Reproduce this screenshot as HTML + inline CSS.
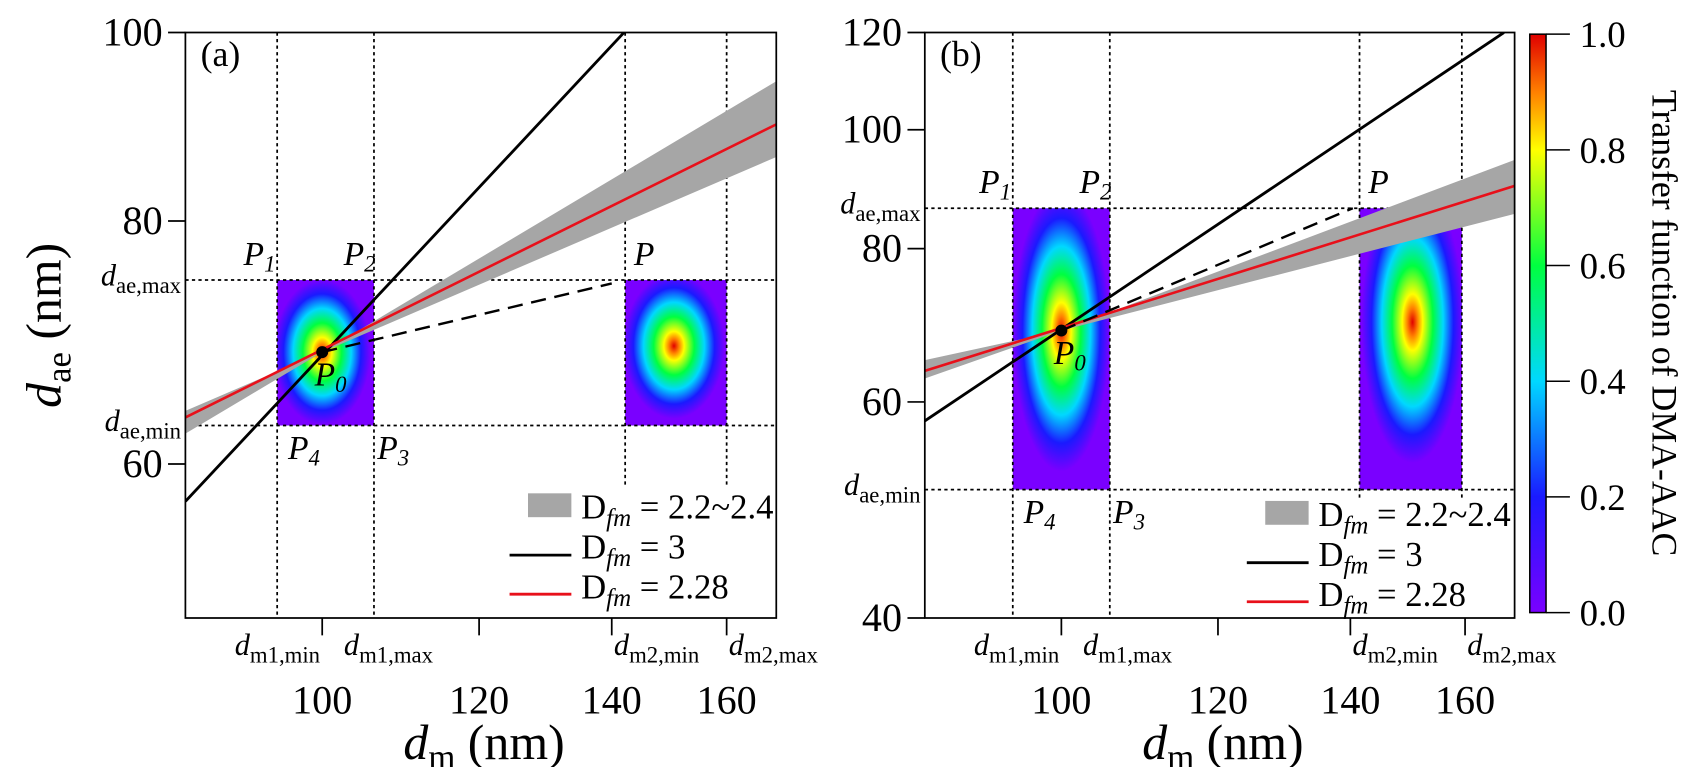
<!DOCTYPE html>
<html><head><meta charset="utf-8"><style>
html,body{margin:0;padding:0;background:#fff;}
svg{display:block;font-family:"Liberation Serif","DejaVu Serif",serif;}
</style></head><body>
<svg id="chart" width="1700" height="767" viewBox="0 0 1568 707.4" xmlns="http://www.w3.org/2000/svg">
<defs id="defs"></defs>
<g id="root"></g>
</svg>
<script>
// ---------- data ----------
const dmTicks=[100,120,140,160];
const daeTicksA=[60,80,100];
const daeTicksB=[40,60,80,100,120];
const cbTicks=[0,0.2,0.4,0.6,0.8,1.0];
const cbTickLabels=["0.0","0.2","0.4","0.6","0.8","1.0"];
const xDomain=[85.3,169.5];
const yDomainA=[50,100];
const yDomainB=[40,120];
const p0A=[100,68.5];
const p0B=[100,68.6];
const dm1A=[94.9,106.2];
const dm2A=[142.2,160];
const daeRangeA=[62.8,74.6];
const dm1B=[94.5,105.8];
const dm2B=[141.5,159.4];
const daeRangeB=[50.9,86.3];
const heat2A=[150.5,69];
const heat2B=[150.5,69.7];
const blackDmA=[85.3,142];
const blackDaeA=[57.4,100];
const blackDmB=[85.3,167.4];
const blackDaeB=[57.9,120];
const redDm=[85.3,169.5];
const redDaeA=[63.4,89.7];
const redDaeB=[63.6,90];
const bandDm=[85.3,100,169.5];
const bandUpA=[63.9,68.5,94.4];
const bandLoA=[62.2,68.5,86.3];
const bandUpB=[64.9,68.6,94.5];
const bandLoB=[62.7,68.6,85.4];
const dashDmA=[100,140];
const dashDaeA=[68.5,74.3];
const dashDmB=[100,140.4];
const dashDaeB=[68.6,86.3];
const cmapPos=[0,0.2,0.4,0.6,0.8,0.9,1.0];
const cmapCol=["#7a00ff","#1a1aff","#00d8ff","#00ff40","#ffff00","#ff8000","#e00000"];

// ---------- helpers ----------
const NS="http://www.w3.org/2000/svg";
const root=document.getElementById('root');
const defs=document.getElementById('defs');
function mk(tag,attrs,parent){const e=document.createElementNS(NS,tag);for(const k in attrs)e.setAttribute(k,attrs[k]);(parent||root).appendChild(e);return e;}
function logScale(d,r){const a=Math.log10(d[0]),b=Math.log10(d[1]);return v=>r[0]+(Math.log10(v)-a)/(b-a)*(r[1]-r[0]);}
function linScale(d,r){return v=>r[0]+(v-d[0])/(d[1]-d[0])*(r[1]-r[0]);}
function subText(parent,x,y,main,sub,opts){
  const t=mk('text',{x:x,y:y,'font-size':opts.size,'text-anchor':opts.anchor||'start'},parent);
  const a=document.createElementNS(NS,'tspan');a.textContent=main;if(opts.italicMain)a.setAttribute('font-style','italic');t.appendChild(a);
  const b=document.createElementNS(NS,'tspan');b.textContent=sub;b.setAttribute('font-size',opts.subSize);b.setAttribute('dy',opts.dy);if(opts.italicSub)b.setAttribute('font-style','italic');t.appendChild(b);
  if(opts.tail){const c=document.createElementNS(NS,'tspan');c.textContent=opts.tail;c.setAttribute('dy',-opts.dy);t.appendChild(c);}
  return t;
}

const lg=mk('linearGradient',{id:'cbgrad',x1:0,y1:1,x2:0,y2:0},defs);
cmapPos.forEach((p,i)=>mk('stop',{offset:p,'stop-color':cmapCol[i]},lg));

function heatGrad(id,cx,cy){
  const g=mk('radialGradient',{id:id,cx:cx,cy:cy,r:0.5,fx:cx,fy:cy},defs);
  for(let i=cmapPos.length-1;i>=0;i--){mk('stop',{offset:1-cmapPos[i],'stop-color':cmapCol[i]},g);}
}

function panel(cfg){
  const g=mk('g',{});
  
  
  const X=logScale(xDomain,[cfg.L,cfg.R]);
  const Y=logScale(cfg.yDom,[cfg.B,cfg.T]);
  [[cfg.dm1,cfg.p0,'1'],[cfg.dm2,cfg.heat2,'2']].forEach(([dm,c,k])=>{
    const x0=X(dm[0]),x1=X(dm[1]),y0=Y(cfg.daeR[1]),y1=Y(cfg.daeR[0]);
    const id=cfg.id+'heat'+k;
    heatGrad(id,((X(c[0])-x0)/(x1-x0)).toFixed(3),((Y(c[1])-y0)/(y1-y0)).toFixed(3));
    const r=mk('rect',{x:x0,y:y0,width:x1-x0,height:y1-y0,fill:'url(#'+id+')'},g);
    
    
  });
  const dashS={stroke:'#000','stroke-width':1.6,'stroke-dasharray':'3,3',fill:'none'};
  cfg.dm1.forEach(v=>{const l=mk('line',Object.assign({x1:X(v),x2:X(v),y1:cfg.T,y2:cfg.B},dashS),g);});
  cfg.dm2.forEach(v=>{const l=mk('line',Object.assign({x1:X(v),x2:X(v),y1:cfg.T,y2:cfg.dm2End},dashS),g);});
  cfg.daeR.forEach(v=>{const l=mk('line',Object.assign({x1:cfg.L,x2:cfg.R,y1:Y(v),y2:Y(v)},dashS),g);});
  const clip=mk('clipPath',{id:cfg.id+'clip'},defs);
  mk('rect',{x:cfg.L,y:cfg.T,width:cfg.R-cfg.L,height:cfg.B-cfg.T},clip);
  const pts=bandDm.map((d,i)=>X(d)+','+Y(cfg.up[i])).concat(bandDm.slice().reverse().map((d,j)=>{const i=bandDm.length-1-j;return X(d)+','+Y(cfg.lo[i]);}));
  const band=mk('polygon',{points:pts.join(' '),fill:'#a6a6a6','clip-path':'url(#'+cfg.id+'clip)'},g);
  
  
  const bl=mk('polyline',{points:cfg.bDm.map((d,i)=>X(d)+','+Y(cfg.bDae[i])).join(' '),stroke:'#000','stroke-width':2.6,fill:'none','clip-path':'url(#'+cfg.id+'clip)'},g);
  
  
  const rl=mk('polyline',{points:redDm.map((d,i)=>X(d)+','+Y(cfg.rDae[i])).join(' '),stroke:'#e8101a','stroke-width':2.4,fill:'none'},g);
  
  
  const dl=mk('polyline',{points:cfg.dDm.map((d,i)=>X(d)+','+Y(cfg.dDae[i])).join(' '),stroke:'#000','stroke-width':2.2,'stroke-dasharray':'14,8',fill:'none'},g);
  
  
  const dot=mk('circle',{cx:X(cfg.p0[0]),cy:Y(cfg.p0[1]),r:5.5,fill:'#000'},g);
  
  
  const fr=mk('path',{d:`M${cfg.L},${cfg.T}H${cfg.R}V${cfg.B}H${cfg.L}Z`,fill:'none',stroke:'#000','stroke-width':1.6},g);
  
  
  cfg.yTicks.forEach(v=>{
    const y=Y(v);
    const tk=mk('line',{x1:cfg.L-16,x2:cfg.L,y1:y,y2:y,stroke:'#000','stroke-width':1.6},g);
    
    const t=mk('text',{x:cfg.L-21,y:y+12,'font-size':37,'text-anchor':'end'},g);t.textContent=v;
    
  });
  dmTicks.forEach(v=>{
    const x=X(v);
    const tk=mk('line',{x1:x,x2:x,y1:cfg.B,y2:cfg.B+16,stroke:'#000','stroke-width':1.6},g);
    
    const t=mk('text',{x:x,y:cfg.B+88,'font-size':37,'text-anchor':'middle'},g);t.textContent=v;
    
  });
  const so={size:28,subSize:21,dy:7,italicMain:true};
  let t;
  t=subText(g,X(100)-2,cfg.B+34,'d','m1,min',Object.assign({anchor:'end'},so));
  t=subText(g,X(100)+20,cfg.B+34,'d','m1,max',so);
  t=subText(g,X(140)+2,cfg.B+34,'d','m2,min',so);
  t=subText(g,X(160)+2,cfg.B+34,'d','m2,max',so);
  t=subText(g,cfg.L-4,Y(cfg.daeR[1])+5,'d','ae,max',Object.assign({anchor:'end'},so));
  t=subText(g,cfg.L-4,Y(cfg.daeR[0])+5,'d','ae,min',Object.assign({anchor:'end'},so));
  const po={size:31,subSize:21,dy:6,italicMain:true,italicSub:true};
  const ry0=Y(cfg.daeR[1]),ry1=Y(cfg.daeR[0]);
  t=subText(g,X(cfg.dm1[0])-31,ry0-14,'P','1',po);
  t=subText(g,X(cfg.dm1[1])-28,ry0-14,'P','2',po);
  t=subText(g,X(cfg.dm2[0])+8,ry0-14,'P','',po);
  t=subText(g,X(cfg.dm1[0])+10,ry1+31,'P','4',po);
  t=subText(g,X(cfg.dm1[1])+3,ry1+31,'P','3',po);
  t=subText(g,X(cfg.p0[0])-7,Y(cfg.p0[1])+31,'P','0',po);
  t=mk('text',{x:cfg.L+14,y:cfg.T+31,'font-size':33},g);t.textContent=cfg.label;
  
  t=subText(g,(cfg.L+cfg.R)/2+3,cfg.B+130,'d','m',{size:46,subSize:32,dy:9,italicMain:true,anchor:'middle',tail:' (nm)'});
  
  const lx=cfg.legX, ly=cfg.legY;
  const lgG=mk('g',{},g);
  const e1=mk('rect',{x:lx+17,y:ly-12,width:40,height:22,fill:'#a6a6a6'},lgG);
  const e2=mk('line',{x1:lx,x2:lx+57,y1:ly+45,y2:ly+45,stroke:'#000','stroke-width':2.6},lgG);
  const e3=mk('line',{x1:lx,x2:lx+57,y1:ly+81,y2:ly+81,stroke:'#e8101a','stroke-width':2.6},lgG);
  const lo={size:32,subSize:23,dy:7,italicSub:true};
  ['2.2~2.4','3','2.28'].forEach((s,i)=>{
    const tt=subText(lgG,lx+66,ly+11+i*37,'D','fm',Object.assign({tail:' = '+s},lo));
    
  });
}

panel({id:'a',name:'panel-a',label:'(a)',L:171,R:716,T:30,B:570,yDom:yDomainA,yTicks:daeTicksA,
  dm1:dm1A,dm2:dm2A,daeR:daeRangeA,p0:p0A,heat2:heat2A,bDm:blackDmA,bDae:blackDaeA,rDae:redDaeA,
  up:bandUpA,lo:bandLoA,dDm:dashDmA,dDae:dashDaeA,dm2End:450,legX:470,legY:467});
panel({id:'b',name:'panel-b',label:'(b)',L:853,R:1397,T:30,B:570,yDom:yDomainB,yTicks:daeTicksB,
  dm1:dm1B,dm2:dm2B,daeR:daeRangeB,p0:p0B,heat2:heat2B,bDm:blackDmB,bDae:blackDaeB,rDae:redDaeB,
  up:bandUpB,lo:bandLoB,dDm:dashDmB,dDae:dashDaeB,dm2End:460,legX:1150,legY:474});

const yt=subText(root,0,0,'d','ae',{size:46,subSize:32,dy:9,italicMain:true,anchor:'middle',tail:' (nm)'});
yt.setAttribute('transform','translate(56,300) rotate(-90)');



const CB=linScale([0,1],[565,31.5]);
const cbr=mk('rect',{x:1411,y:CB(1),width:15,height:CB(0)-CB(1),fill:'url(#cbgrad)',stroke:'#000','stroke-width':1.4});


cbTicks.forEach((v,i)=>{
  const y=CB(v);
  const l=mk('line',{x1:1426,x2:1448,y1:y,y2:y,stroke:'#000','stroke-width':1.4});
  
  const t=mk('text',{x:1457,y:y+12,'font-size':34});t.textContent=cbTickLabels[i];
  
});
const ct=mk('text',{x:0,y:0,'font-size':33,'text-anchor':'middle',transform:'translate(1524,298) rotate(90)'});
ct.textContent='Transfer function of DMA-AAC';


</script>
</body></html>
